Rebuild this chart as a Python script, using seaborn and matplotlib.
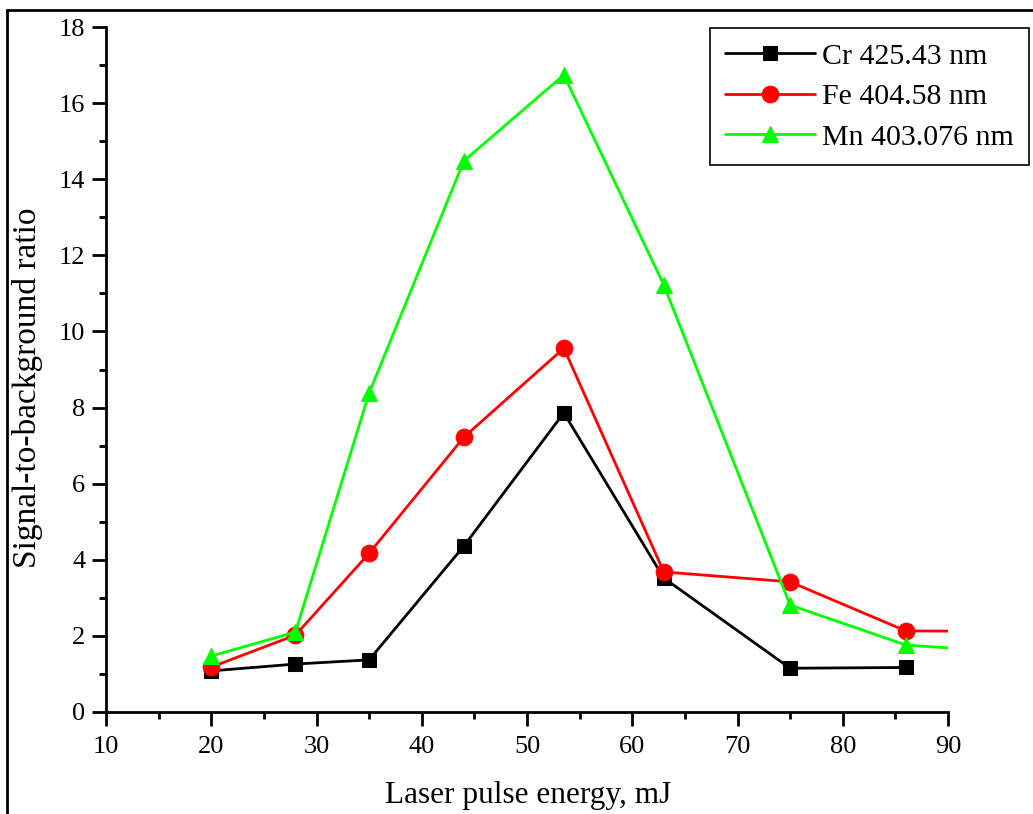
import numpy as np
import pandas as pd
import matplotlib
matplotlib.use("Agg")
import matplotlib.pyplot as plt
from matplotlib.lines import Line2D
from matplotlib.ticker import MultipleLocator
import seaborn as sns

# ---- data ----
energy_cr = [20, 28, 35, 44, 53.5, 63, 75, 86]
cr_values = [1.08, 1.26, 1.37, 4.36, 7.86, 3.52, 1.15, 1.17]

energy_fe = [20, 28, 35, 44, 53.5, 63, 75, 86, 97]
fe_values = [1.18, 2.02, 4.17, 7.22, 9.56, 3.68, 3.42, 2.13, 2.12]

energy_mn = [20, 28, 35, 44, 53.5, 63, 75, 86, 97]
mn_values = [1.47, 2.10, 8.38, 14.48, 16.74, 11.22, 2.81, 1.76, 1.55]

labels = ["Cr 425.43 nm", "Fe 404.58 nm", "Mn 403.076 nm"]
colors = ["#000000", "#ff0000", "#00ff00"]
markers = ["s", "o", "^"]

sns.set_theme(style="ticks")
plt.rcParams["font.family"] = ["Liberation Serif", "DejaVu Serif"]
plt.rcParams["text.color"] = "black"
plt.rcParams["axes.labelcolor"] = "black"
plt.rcParams["xtick.color"] = "black"
plt.rcParams["ytick.color"] = "black"

fig = plt.figure(figsize=(10.33, 8.14), dpi=100)
ax = fig.add_axes([106 / 1033, 1 - 712 / 814, (948 - 106) / 1033, (712 - 27) / 814])

series = [(energy_cr, cr_values), (energy_fe, fe_values), (energy_mn, mn_values)]
msizes = [10, 12, 12]
for (xs, ys), lab, col, mk, ms in zip(series, labels, colors, markers, msizes):
    df = pd.DataFrame({"x": xs, "y": ys})
    sns.lineplot(data=df, x="x", y="y", ax=ax, color=col, marker=mk,
                 markersize=ms, markeredgecolor=col, linewidth=2,
                 label=lab, sort=False)

ax.set_xlim(10, 90)
ax.set_ylim(0, 18)
ax.xaxis.set_major_locator(MultipleLocator(10))
ax.xaxis.set_minor_locator(MultipleLocator(5))
ax.yaxis.set_major_locator(MultipleLocator(2))
ax.yaxis.set_minor_locator(MultipleLocator(1))

for s in ["top", "right"]:
    ax.spines[s].set_visible(False)
for s in ["left", "bottom"]:
    ax.spines[s].set_linewidth(2)
    ax.spines[s].set_color("black")

ax.tick_params(which="major", direction="out", length=10, width=2,
               labelsize=19, colors="black")
ax.tick_params(which="minor", direction="out", length=5, width=2, colors="black")
ax.tick_params(axis="x", which="major", pad=7)
ax.tick_params(axis="y", which="major", pad=5)

ax.set_xlabel("Laser pulse energy, mJ", fontsize=22.5)
ax.set_ylabel("Signal-to-background ratio", fontsize=24)
ax.xaxis.set_label_coords((528 - 106) / 842, (712 - 781) / 685)
ax.yaxis.set_label_coords((43 - 106) / 842, (712 - 388) / 685)

leg = ax.legend(loc="upper right", bbox_to_anchor=(1029 / 1033, 1 - 28 / 814),
                bbox_transform=fig.transFigure, fontsize=21.5, frameon=True,
                fancybox=False, edgecolor="black", handlelength=3.0,
                borderpad=0.5, labelspacing=0.45, handletextpad=0.25,
                borderaxespad=0, framealpha=1)
leg.get_frame().set_linewidth(1.2)

# outer figure frame (left and top edges visible)
fig.add_artist(Line2D([7 / 1033, 7 / 1033], [0, 1 - 10 / 814],
                      transform=fig.transFigure, color="black", linewidth=2))
fig.add_artist(Line2D([7 / 1033, 1], [1 - 10 / 814, 1 - 10 / 814],
                      transform=fig.transFigure, color="black", linewidth=2))

fig.savefig("out.png", dpi=100)
